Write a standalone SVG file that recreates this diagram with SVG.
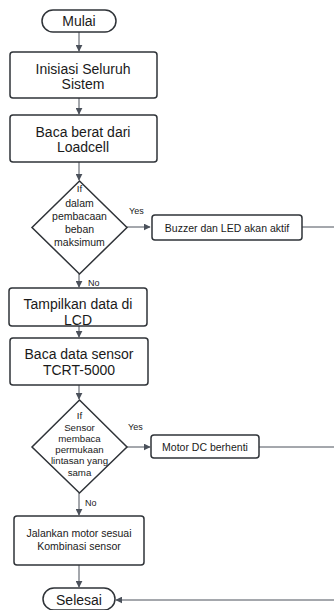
<svg xmlns="http://www.w3.org/2000/svg" width="334" height="610" viewBox="0 0 334 610">
<defs>
<marker id="ah" viewBox="0 0 10 10" refX="9" refY="5" markerWidth="7" markerHeight="7" markerUnits="userSpaceOnUse" orient="auto">
<path d="M0,0 L10,5 L0,10 z" fill="#4b515b"/>
</marker>
</defs>
<style>
.shape{fill:#ffffff;stroke:#2f3338;stroke-width:1.5}
.t{font-family:"Liberation Sans",Arial,sans-serif;fill:#1a1a1a;text-anchor:middle;dominant-baseline:central}
.big{font-size:14px}
.mid{font-size:10.5px}
.sm{font-size:9.7px}
.lbl{font-family:"Liberation Sans",Arial,sans-serif;font-size:9px;fill:#1a1a1a}
.c{fill:none;stroke:#4b515b;stroke-width:1}
</style>
<rect width="334" height="610" fill="#ffffff"/>
<g id="connectors">
<line class="c" x1="79" y1="32" x2="79" y2="51" marker-end="url(#ah)"/>
<line class="c" x1="79" y1="98" x2="79" y2="114" marker-end="url(#ah)"/>
<line class="c" x1="79" y1="162" x2="79" y2="180" marker-end="url(#ah)"/>
<line class="c" x1="127" y1="227" x2="150" y2="227" marker-end="url(#ah)"/>
<line class="c" x1="302" y1="227" x2="334" y2="227"/>
<line class="c" x1="79" y1="274" x2="79" y2="287" marker-end="url(#ah)"/>
<line class="c" x1="79" y1="326" x2="79" y2="337" marker-end="url(#ah)"/>
<line class="c" x1="79" y1="385" x2="79" y2="399" marker-end="url(#ah)"/>
<line class="c" x1="127" y1="447" x2="150" y2="447" marker-end="url(#ah)"/>
<line class="c" x1="259" y1="447" x2="334" y2="447"/>
<line class="c" x1="79" y1="493" x2="79" y2="515" marker-end="url(#ah)"/>
<line class="c" x1="79" y1="565" x2="79" y2="587" marker-end="url(#ah)"/>
<line class="c" x1="334" y1="600" x2="116" y2="600" marker-end="url(#ah)"/>
<text class="lbl" x="129" y="214">Yes</text>
<text class="lbl" x="88" y="286">No</text>
<text class="lbl" x="128" y="430">Yes</text>
<text class="lbl" x="85" y="506">No</text>
</g>
<g id="mulai">
<rect class="shape" x="42" y="10" width="74" height="22" rx="11"/>
<text class="t big" x="79" y="21">Mulai</text>
</g>
<g id="inisiasi">
<rect class="shape" x="10" y="52" width="147" height="46" rx="3"/>
<text class="t big" x="83" y="69">Inisiasi Seluruh</text>
<text class="t big" x="83" y="84">Sistem</text>
</g>
<g id="baca-berat">
<rect class="shape" x="10" y="115" width="147" height="47" rx="3"/>
<text class="t big" x="83" y="132">Baca berat dari</text>
<text class="t big" x="83" y="147">Loadcell</text>
</g>
<g id="cek-beban">
<polygon class="shape" points="79.5,181 127,227.5 79.5,274 32,227.5"/>
<text class="t sm" x="79.5" y="188">If</text>
<text class="t mid" x="79.5" y="203">dalam</text>
<text class="t mid" x="79.5" y="216">pembacaan</text>
<text class="t mid" x="79.5" y="229">beban</text>
<text class="t mid" x="79.5" y="242">maksimum</text>
</g>
<g id="buzzer">
<rect class="shape" x="152" y="215" width="150" height="25" rx="3"/>
<text class="t mid" x="227" y="227.5">Buzzer dan LED akan aktif</text>
</g>
<g id="tampilkan">
<rect class="shape" x="9" y="288" width="138" height="38" rx="3"/>
<text class="t big" x="78" y="304">Tampilkan data di</text>
<text class="t big" x="78" y="320">LCD</text>
</g>
<g id="baca-sensor">
<rect class="shape" x="10" y="338" width="138" height="47" rx="3"/>
<text class="t big" x="79" y="354">Baca data sensor</text>
<text class="t big" x="79" y="370">TCRT-5000</text>
</g>
<g id="cek-sensor">
<polygon class="shape" points="79.5,400 127,447 79.5,493 32,447"/>
<text class="t sm" x="79.5" y="415">If</text>
<text class="t sm" x="79.5" y="427">Sensor</text>
<text class="t sm" x="79.5" y="438">membaca</text>
<text class="t sm" x="79.5" y="449">permukaan</text>
<text class="t sm" x="79.5" y="460">lintasan yang</text>
<text class="t sm" x="79.5" y="472">sama</text>
</g>
<g id="motor-berhenti">
<rect class="shape" x="151" y="435" width="108" height="23" rx="3"/>
<text class="t mid" x="205" y="446.5">Motor DC berhenti</text>
</g>
<g id="jalankan">
<rect class="shape" x="14" y="516" width="130" height="49" rx="3"/>
<text class="t mid" x="79" y="533">Jalankan motor sesuai</text>
<text class="t mid" x="79" y="546">Kombinasi sensor</text>
</g>
<g id="selesai">
<rect class="shape" x="43" y="588" width="72" height="22" rx="11"/>
<text class="t big" x="79" y="600">Selesai</text>
</g>
</svg>
